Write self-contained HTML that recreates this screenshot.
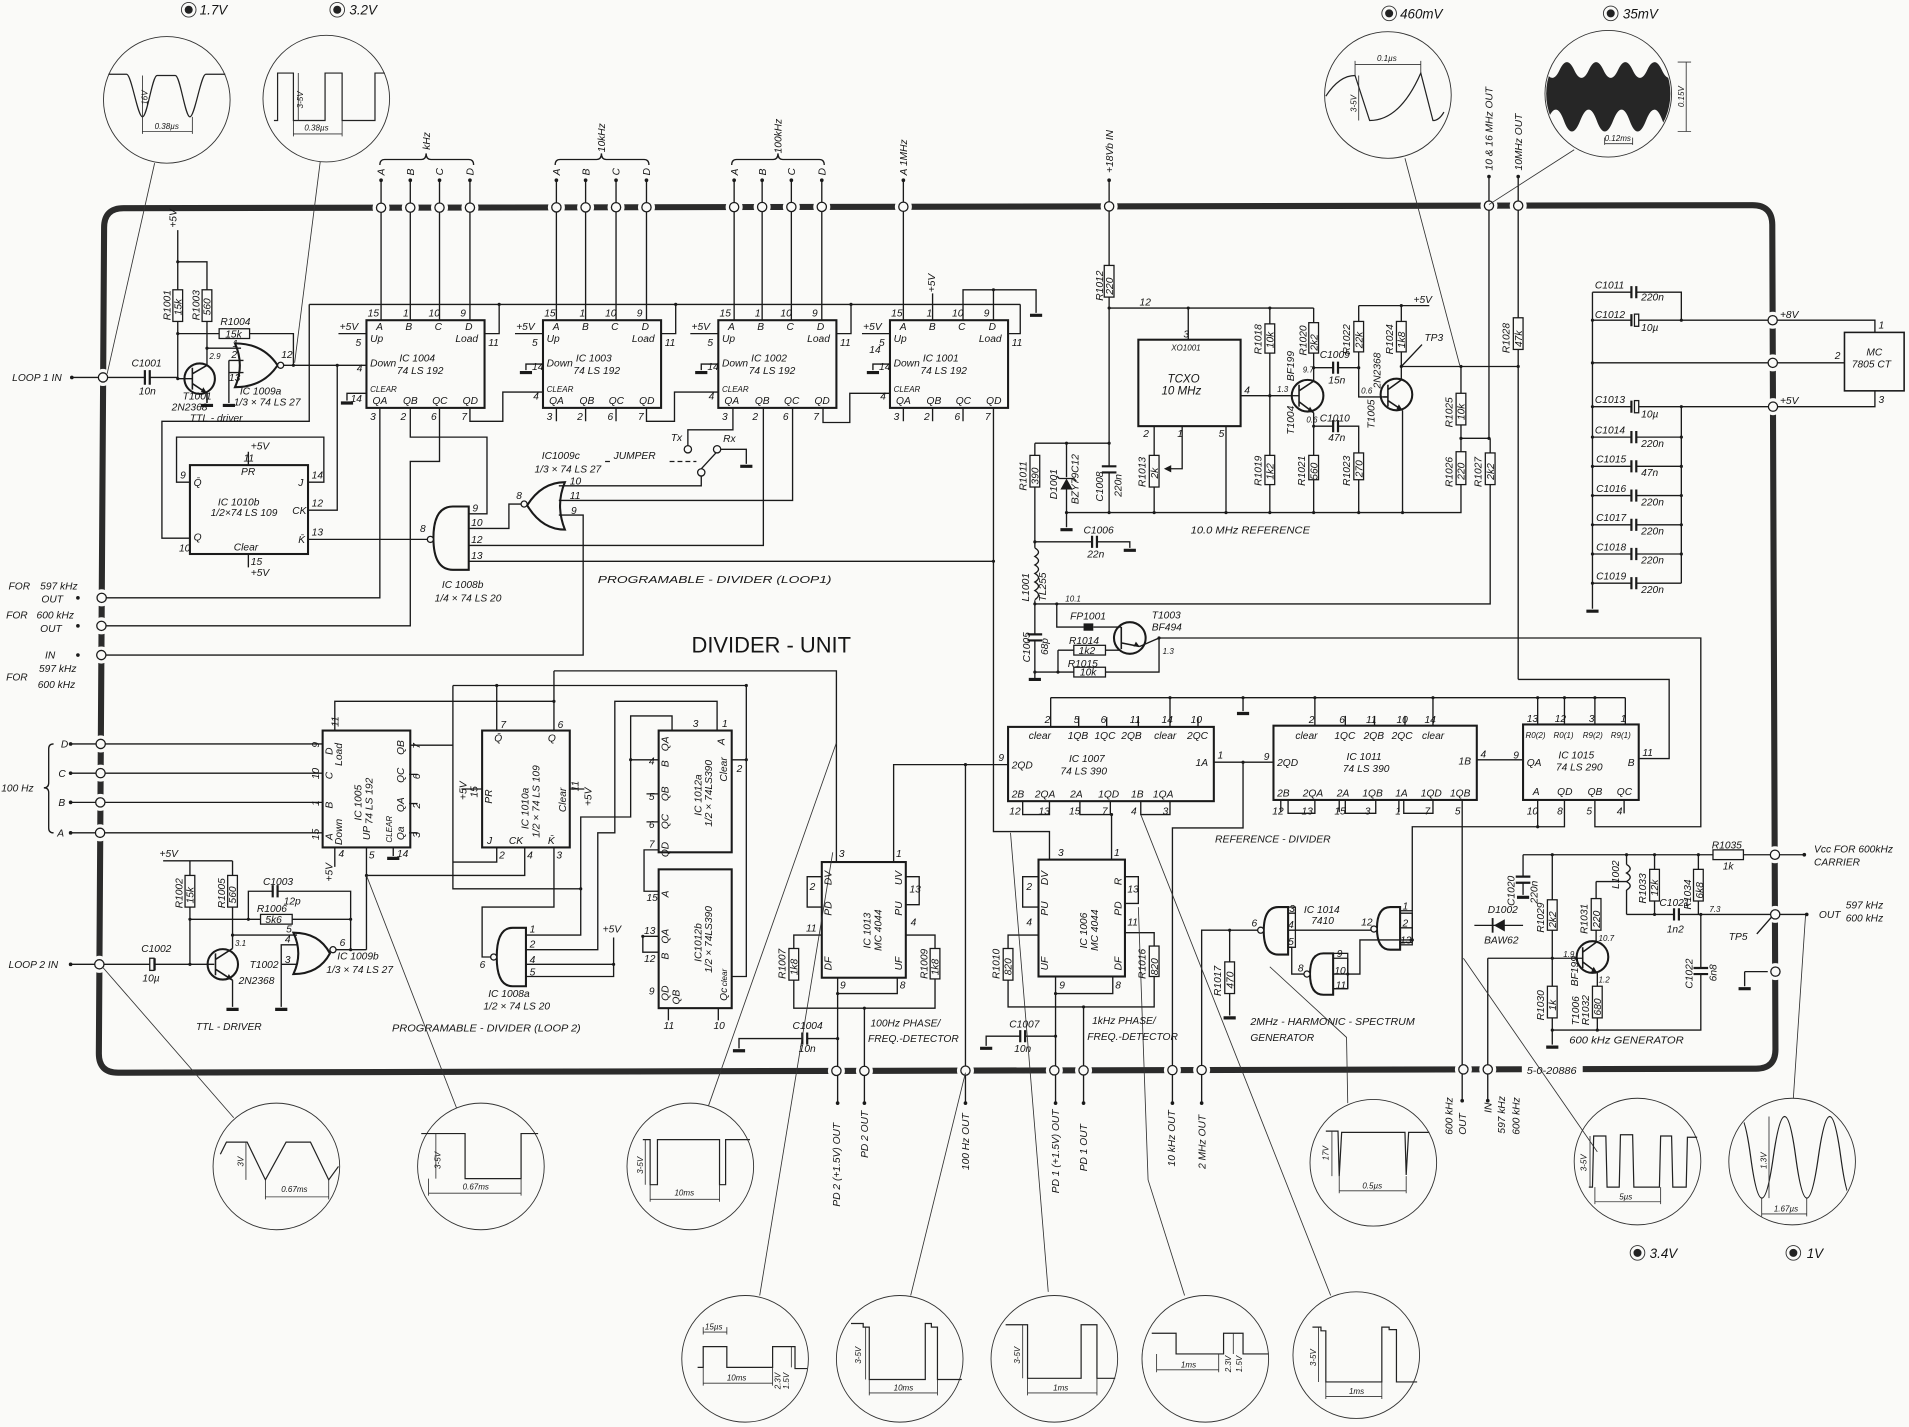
<!DOCTYPE html>
<html><head><meta charset="utf-8">
<style>
html,body{margin:0;padding:0;background:#fafaf8;}
svg{display:block}
.t{font-family:"Liberation Sans",sans-serif;font-style:italic;font-size:8.4px;fill:#151515;stroke:none}
.s{font-size:6.6px}
.m{font-size:9.5px}
.p{font-size:11px}
.w{fill:none;stroke:#1a1a1a;stroke-width:1.1;stroke-linejoin:miter}
.b{fill:none;stroke:#1a1a1a;stroke-width:1.7}
.r{fill:#fafaf8;stroke:#1a1a1a;stroke-width:1.05}
.g{stroke:#1a1a1a;stroke-width:2.6}
.sc{fill:none;stroke:#333;stroke-width:0.75}
.wf{fill:none;stroke:#222;stroke-width:1}
.ld{fill:none;stroke:#333;stroke-width:0.7}
</style></head>
<body>
<svg width="1909" height="1427" viewBox="0 0 1568 1172" preserveAspectRatio="none" xmlns="http://www.w3.org/2000/svg">
<defs>
<clipPath id="c4"><circle cx="1321" cy="77" r="51"/></clipPath>
<clipPath id="ck"><circle cx="1472" cy="954" r="51"/></clipPath>
</defs>

<!-- FRAME -->
<path d="M85.5,187 Q85.5,171 101.5,171 L1439.5,168.5 Q1455.5,168.5 1455.7,184.5 L1458.3,861.5 Q1458.5,877.5 1442.5,877.7 L97,881 Q81,881 81.2,865 Z" fill="none" stroke="#2b2b2b" stroke-width="5"/>
<g fill="#fafaf8">
<circle cx="313" cy="170.6" r="7"/><circle cx="337" cy="170.5" r="7"/><circle cx="361" cy="170.5" r="7"/><circle cx="386" cy="170.5" r="7"/>
<circle cx="457" cy="170.3" r="7"/><circle cx="481" cy="170.3" r="7"/><circle cx="506" cy="170.2" r="7"/><circle cx="531" cy="170.2" r="7"/>
<circle cx="603" cy="170.1" r="7"/><circle cx="626" cy="170" r="7"/><circle cx="650" cy="170" r="7"/><circle cx="675" cy="169.9" r="7"/>
<circle cx="742" cy="169.8" r="7"/><circle cx="911" cy="169.5" r="7"/><circle cx="1223" cy="168.9" r="7"/><circle cx="1247" cy="168.9" r="7"/>
<circle cx="84.6" cy="310" r="7"/><circle cx="83.5" cy="491" r="7"/><circle cx="83.3" cy="514" r="7"/><circle cx="83.2" cy="538" r="7"/>
<circle cx="82.7" cy="611" r="7"/><circle cx="82.6" cy="635" r="7"/><circle cx="82.4" cy="659" r="7"/><circle cx="82.2" cy="684" r="7"/><circle cx="81.6" cy="792" r="7"/>
<circle cx="1456" cy="263" r="7"/><circle cx="1456.1" cy="298" r="7"/><circle cx="1456.3" cy="334" r="7"/><circle cx="1457.9" cy="702" r="7"/><circle cx="1458.1" cy="751" r="7"/><circle cx="1458.3" cy="798" r="7"/>
<circle cx="687" cy="879.5" r="7"/><circle cx="710" cy="879.5" r="7"/><circle cx="793" cy="879.3" r="7"/><circle cx="866" cy="879.1" r="7"/><circle cx="890" cy="879.1" r="7"/>
<circle cx="963" cy="878.9" r="7"/><circle cx="987" cy="878.8" r="7"/><circle cx="1202" cy="878.3" r="7"/><circle cx="1222" cy="878.3" r="7"/>
<rect x="1250" y="871" width="50" height="15"/>
</g>

<!-- WIRES -->
<path class="w" d="
M313,148V263 M337,148V263 M361,148V263 M386,148V263
M457,148V263 M481,148V263 M506,148V263 M531,148V263
M603,148V263 M626,148V263 M650,148V263 M675,148V263
M742,148V263
M911,148V218 M911,244V383 M911,388V421
M1223,145V360 M1247,145V261 M1247,287V558
M254,250H838 M254,250V346H133V442H156
M398,274H410V250 M543,274H555V250 M687,274H699V250 M828,274H838V250
M766,263V241 M791,263V238H851V257 M816,263V238
M278,274H301 M423,274H446 M567,274H590 M708,274H731
M446,299H432V304 M590,299H576V304 M731,299H717V304
M301,323H285V329
M312,335V491H84 M337,335V359H400V422H385 M361,335V379H337V514H84 M386,335V346H413V322H446
M457,335V346 M481,335V346 M506,335V346 M531,335V346H554V322H590
M602,335V353H565V366 M627,335V448H385 M651,335V411H459 M676,335V347H698V323H731
M742,335V346 M766,335V346 M791,335V346 M816,335V683H862V706
M816,461H385
M592,369H613V381 M576,391V399H459
M459,423H479V538H84
M428,414H418V434H385
M351,443H253
M204,382V371 M204,455V466
M253,396H266V359H145V396H156
M253,419H277V300
M146,189V238 M146,264V311 M146,215H170V238 M170,264V300
M146,274H180 M205,274H241V300
M170,286H198 M188,296H200 M188,306H200 M188,296V331
M233,300H301
M59,310H119 M123,310H146
M146,311H158
M58,611H265 M58,635H265 M58,659H265 M58,684H265
M275,600V576H455 M455,551V600 M455,551H687V708 M372,563H613 M408,563V600 M372,563V708H408V696
M337,612H372V730H477
M336,636H343 M336,660H343 M336,684H343
M275,696V712 M301,696V780 M301,719H431V696 M323,696V703
M396,648H379 M468,648H480
M403,786H396V745H455V696
M432,768H477V671H518V624 M432,780H491V684H505V576H589V600 M432,792H504 M432,802H504V770
M552,600V588H518V624H541 M541,652H531 M541,675H531 M541,698H529V732H541 M601,624H613 M613,563V802H601
M541,769H528V782H541 M549,828V838 M590,828V838
M734,708V628H828 M793,628V879
M675,720H663V745H675 M675,768H652V779 M652,805V828H768V804 M768,779V768H744 M744,720H755V743H744
M688,803V906 M737,803V816H688 M710,828V906 M688,853H663 M659,853H607V861
M913,706V669 M853,720H840V745H853 M853,768H828V779 M828,805V827H948V802 M948,777V766H924 M924,720H935V742H924
M867,802V906 M914,802V816H867 M890,827V906 M867,851H842 M838,851H810V859
M863,573H1335 M863,573V597 M961,573V597 M1021,573V584 M886,589V597 M909,589V597 M935,589V597 M984,589V597
M997,626H1046 M1021,626V680H963V906 M793,879V906
M840,658V669H862V658 M887,658V669H912V658 M937,658V669H961V658
M1080,573V596 M1177,573V596 M1105,588V596 M1129,588V596 M1154,588V596
M1213,624H1251 M1052,657V667 M1058,657V668H1080V657 M1100,657V667 M1105,657V668H1130V657 M1149,657V667 M1153,657V668H1177V657
M1201,657V904
M1263,573V595 M1285,573V595 M1310,573V595 M1335,573V595
M1346,623H1371V558H1247 M1263,657V679 M1285,657V679H1160V748 M1310,657V679H1397V524H952 M1334,657V668
M911,253H1079 M976,253V279 M1043,253V266 M1043,290V374 M1043,398V421 M1079,253V265 M1079,290V313
M1019,325H1061
M948,350V374 M948,400V421 M971,350V385H958 M1007,350V421
M854,364H911 M850,364V374 M850,400V450 M850,493V521 M850,526V558 M850,364H854 M876,364V392 M876,402V433
M876,421H1200V398
M850,445H897 M901,445H928V450
M850,496H1224V398
M1200,301V323 M1200,349V371 M1200,360H1224 M1224,360V372
M1151,251V264 M1151,289V312 M1116,251H1174 M1116,251V264 M1116,289V326H1136
M1079,302H1095 M1099,302H1116
M1079,339V374 M1079,394V421 M1079,350H1095 M1099,350H1116V372 M1116,394V421
M1152,337V421
M1151,301H1247 M1151,301L1168,283
M868,496V515H890 M898,515H921 M869,534H882 M908,534H921 M850,552H882 M908,552H952V524 M869,534V552 M936,531L952,524
M1308,240V500 M1308,240H1340 M1344,240H1381V263 M1308,263H1340 M1346,263H1540V273 M1308,298H1515
M1308,334H1340 M1346,334H1540V321
M1308,359H1340 M1344,359H1381 M1308,383H1340 M1344,383H1381 M1308,407H1340 M1344,407H1381
M1308,431H1340 M1344,431H1381 M1308,455H1340 M1344,455H1381 M1308,479H1340 M1344,479H1381 M1381,334V479
M1251,702H1407 M1432,702H1482 M1251,702V720 M1251,725V735
M1275,702V739 M1275,764V810 M1275,836V858
M1222,787H1300 M1222,787V904
M1336,702V710 M1336,731V751 M1311,724H1336 M1311,724V738 M1311,764V774
M1359,702V714 M1359,740V751 M1395,702V714 M1395,740V751
M1336,751H1375 M1379,751H1484
M1397,751V795 M1397,800V846H1275 M1312,799V810 M1312,836V846
M1211,760H1251
M1433,798H1452 M1433,798V810 M1457,751L1443,767
M1058,750H1064 M1058,764H1126 M1058,778H1061V800H1071
M1033,764H987V906 M1010,764V790 M1010,816V834
M1095,787H1107 M1095,800H1107 M1095,812H1107 M1107,787V812 M1107,800H1117V772H1160
M1150,750H1160 M1150,762H1160 M1150,774H1160 M1160,750V774
M134,707H191 M156,707V719 M156,745V792 M156,755H214 M240,755H288 M204,755V732H224 M228,732H288V780
M191,707V719 M191,745V779 M191,768H244
M58,792H123 M127,792H176
M191,805V827
M244,776H231V827 M231,792H244
M276,780H301
"/>
<!-- JUMPER dashed -->
<path d="M497,379H502 M550,379H572" stroke="#1a1a1a" stroke-width="1" stroke-dasharray="4,2.5"/>
<path class="w" d="M576,385L588,372"/>

<!-- IC bodies -->
<g class="b">
<rect x="301" y="263" width="97" height="72"/>
<rect x="446" y="263" width="97" height="72"/>
<rect x="590" y="263" width="97" height="72"/>
<rect x="731" y="263" width="97" height="72"/>
<rect x="156" y="382" width="97" height="73"/>
<rect x="265" y="600" width="72" height="96"/>
<rect x="396" y="600" width="72" height="96"/>
<rect x="541" y="600" width="60" height="100"/>
<rect x="541" y="714" width="60" height="114"/>
<rect x="675" y="708" width="69" height="95"/>
<rect x="853" y="706" width="71" height="96"/>
<rect x="828" y="597" width="169" height="61"/>
<rect x="1046" y="596" width="167" height="61"/>
<rect x="1251" y="595" width="95" height="62"/>
<rect x="935" y="279" width="84" height="71"/>
<rect x="1515" y="273" width="49" height="48" stroke-width="1.3"/>
<path d="M193,282 Q201,300 193,318 Q216,318 228,300 Q216,282 193,282 Z"/>
<path d="M241,766 Q249,783 241,800 Q262,800 271,783 Q262,766 241,766 Z"/>
<path d="M464,396 Q456,415 464,435 Q445,435 433,415 Q445,396 464,396 Z"/>
<path d="M385,416 V468 H372 Q356,468 356,442 Q356,416 372,416 Z"/>
<path d="M432,762 V810 H421 Q408,810 408,786 Q408,762 421,762 Z"/>
<path d="M1058,745 V784 H1050 Q1038,784 1038,764.5 Q1038,745 1050,745 Z"/>
<path d="M1095,783 V817 H1087 Q1076,817 1076,800 Q1076,783 1087,783 Z"/>
<path d="M1150,745 V780 H1142 Q1131,780 1131,762.5 Q1131,745 1142,745 Z"/>
</g>
<g class="r" stroke-width="1.2">
<circle cx="230.5" cy="300" r="2.5"/><circle cx="273.5" cy="780" r="2.5"/><circle cx="430.5" cy="414" r="2.5"/>
<circle cx="353.5" cy="443" r="2.5"/><circle cx="405.5" cy="786" r="2.5"/><circle cx="1035.5" cy="764" r="2.5"/>
<circle cx="1073.5" cy="800" r="2.5"/><circle cx="1128.5" cy="763" r="2.5"/>
</g>

<!-- transistors -->
<g class="b" stroke-width="1.5">
<circle cx="164" cy="311" r="12.5"/><circle cx="183" cy="792" r="12.5"/>
<circle cx="1074" cy="325" r="13"/><circle cx="1147" cy="324" r="13"/>
<circle cx="928" cy="524" r="13"/><circle cx="1308" cy="786" r="13"/>
</g>
<g class="w" stroke-width="1.1">
<path d="M158,302V320 M158,307L170,300 M158,315L170,323V331" stroke-width="1.3"/>
<path d="M177,783V801 M177,788L191,779 M177,796L191,805" stroke-width="1.3"/>
<path d="M1067,316V334 M1067,321L1079,313 M1067,330L1079,339" stroke-width="1.3"/>
<path d="M1140,316V334 M1136,326H1140 M1140,320L1151,312 M1140,329L1152,337" stroke-width="1.3"/>
<path d="M921,515V533 M921,528L936,531" stroke-width="1.3"/>
<path d="M1300,778V795 M1300,782L1311,774 M1300,790L1312,799" stroke-width="1.3"/>
<path d="M1061,325H1067"/>
</g>
<g fill="#1a1a1a">
<path d="M170,323 l-5,-1 l2,-4z"/><path d="M191,805 l-5,-1 l2,-4z"/><path d="M1079,339 l-5,-1 l2,-4z"/>
<path d="M1152,337 l-5,-1 l2,-4z"/><path d="M1312,799 l-5,-1 l2,-4z"/><path d="M936,531 l-5,0 l2,-4z"/>
<rect x="890" y="512" width="8" height="6"/>
</g>

<!-- resistors -->
<g class="r">
<rect x="142" y="238" width="8" height="26"/><rect x="166" y="238" width="8" height="26"/>
<rect x="180" y="270" width="25" height="8"/>
<rect x="152" y="719" width="8" height="26"/><rect x="187" y="719" width="8" height="26"/>
<rect x="214" y="751" width="26" height="8"/>
<rect x="648" y="779" width="8" height="26"/><rect x="764" y="779" width="8" height="25"/>
<rect x="824" y="779" width="8" height="26"/><rect x="944" y="777" width="8" height="25"/>
<rect x="1006" y="790" width="8" height="26"/>
<rect x="907" y="218" width="8" height="26"/>
<rect x="846" y="374" width="8" height="26"/><rect x="944" y="374" width="8" height="26"/>
<rect x="1039" y="266" width="8" height="24"/><rect x="1039" y="374" width="8" height="24"/>
<rect x="1075" y="265" width="8" height="25"/><rect x="1075" y="374" width="8" height="20"/>
<rect x="1112" y="264" width="8" height="25"/><rect x="1112" y="372" width="8" height="22"/>
<rect x="1147" y="264" width="8" height="25"/>
<rect x="1196" y="323" width="8" height="26"/><rect x="1196" y="371" width="8" height="27"/>
<rect x="1220" y="372" width="8" height="26"/><rect x="1243" y="261" width="8" height="26"/>
<rect x="882" y="530" width="26" height="8"/><rect x="882" y="548" width="26" height="8"/>
<rect x="1407" y="698" width="25" height="8"/>
<rect x="1271" y="739" width="8" height="25"/><rect x="1271" y="810" width="8" height="26"/>
<rect x="1307" y="738" width="8" height="26"/><rect x="1308" y="810" width="8" height="26"/>
<rect x="1355" y="714" width="8" height="26"/><rect x="1391" y="714" width="8" height="26"/>
<rect x="1095" y="783" width="12" height="29" fill="none"/><rect x="1150" y="748" width="10" height="28" fill="none"/>
<rect x="1058" y="745" width="6" height="33" fill="none"/>
</g>
<path d="M956,385 l6,-3 v6z" fill="#1a1a1a"/>

<!-- capacitors -->
<g stroke="#1a1a1a" stroke-width="1.8" fill="none">
<path d="M119,304V316 M123,304V316"/>
<path d="M659,848V858 M663,848V858 M838,846V856 M842,846V856"/>
<path d="M905,383H917 M905,388H917 M897,440V450 M901,440V450 M844,521H856 M844,526H856"/>
<path d="M1095,297V307 M1099,297V307 M1095,345V355 M1099,345V355"/>
<path d="M224,727V737 M228,727V737"/>
<path d="M1340,235V245 M1344,235V245 M1340,354V364 M1344,354V364 M1340,378V388 M1344,378V388 M1340,402V412 M1344,402V412 M1340,426V436 M1344,426V436 M1340,450V460 M1344,450V460 M1340,474V484 M1344,474V484"/>
<path d="M1245,720H1257 M1245,725H1257 M1391,795H1403 M1391,800H1403 M1375,746V756 M1379,746V756"/>
<path d="M1340,258V268 M1340,329V339"/>
</g>
<g class="r" stroke-width="1"><rect x="1342.5" y="258" width="3.5" height="10"/><rect x="1342.5" y="329" width="3.5" height="10"/><rect x="123" y="787" width="3.5" height="10"/></g>
<path d="M127,787V797" stroke="#1a1a1a" stroke-width="1.8"/>
<path d="M871,402H881L876,393Z" fill="#1a1a1a"/><path d="M870,393H882 M870,393l-2,-2 M882,393l2,2" stroke="#1a1a1a" stroke-width="1.1" fill="none"/>
<path d="M1236,755V765L1227,760Z" fill="#1a1a1a"/><path d="M1226,754V766" stroke="#1a1a1a" stroke-width="1.5"/>
<path class="w" d="M850,450 q6,3.5 0,7 q6,3.5 0,7 q6,3.5 0,7 q6,3.5 0,7 q6,3.5 0,7 q6,3.5 0,7.5"/>
<path class="w" d="M1336,710 q6,3.5 0,7 q6,3.5 0,7 q6,3.5 0,7"/>
<!-- grounds -->
<g class="g">
<path d="M280,331H290 M427,306H437 M571,306H581 M712,306H722 M846,259H856 M165,333H175 M183,333H193 M608,383H618"/>
<path d="M318,705H328 M186,829H196 M226,829H236 M602,863H612 M805,861H815 M871,435H881 M923,452H933 M845,558H855 M1016,586H1026"/>
<path d="M1303,502H1313 M1246,737H1256 M1270,860H1280 M1428,812H1438 M1005,836H1015"/>
</g>
<!-- dots -->
<g fill="#1a1a1a">
<circle cx="313" cy="148" r="1.5"/><circle cx="337" cy="148" r="1.5"/><circle cx="361" cy="148" r="1.5"/><circle cx="386" cy="148" r="1.5"/>
<circle cx="457" cy="148" r="1.5"/><circle cx="481" cy="148" r="1.5"/><circle cx="506" cy="148" r="1.5"/><circle cx="531" cy="148" r="1.5"/>
<circle cx="603" cy="148" r="1.5"/><circle cx="626" cy="148" r="1.5"/><circle cx="650" cy="148" r="1.5"/><circle cx="675" cy="148" r="1.5"/>
<circle cx="742" cy="148" r="1.5"/><circle cx="911" cy="148" r="1.5"/><circle cx="1223" cy="145" r="1.5"/><circle cx="1247" cy="145" r="1.5"/>
<circle cx="59" cy="310" r="1.5"/><circle cx="64" cy="491" r="1.5"/><circle cx="64" cy="514" r="1.5"/><circle cx="64" cy="538" r="1.5"/>
<circle cx="58" cy="611" r="1.5"/><circle cx="58" cy="635" r="1.5"/><circle cx="58" cy="659" r="1.5"/><circle cx="58" cy="684" r="1.5"/><circle cx="58" cy="792" r="1.5"/>
<circle cx="688" cy="906" r="1.5"/><circle cx="710" cy="906" r="1.5"/><circle cx="793" cy="906" r="1.5"/><circle cx="867" cy="906" r="1.5"/><circle cx="890" cy="906" r="1.5"/>
<circle cx="963" cy="906" r="1.5"/><circle cx="987" cy="906" r="1.5"/><circle cx="1201" cy="904" r="1.5"/><circle cx="1222" cy="904" r="1.5"/>
<circle cx="1482" cy="702" r="1.5"/><circle cx="1484" cy="751" r="1.5"/>
<circle cx="146" cy="215" r="1.3"/><circle cx="146" cy="274" r="1.3"/><circle cx="146" cy="311" r="1.3"/><circle cx="170" cy="286" r="1.3"/>
<circle cx="241" cy="300" r="1.3"/><circle cx="277" cy="300" r="1.3"/><circle cx="410" cy="250" r="1.3"/><circle cx="555" cy="250" r="1.3"/><circle cx="699" cy="250" r="1.3"/><circle cx="816" cy="238" r="1.3"/>
<circle cx="911" cy="253" r="1.3"/><circle cx="976" cy="253" r="1.3"/><circle cx="1043" cy="253" r="1.3"/><circle cx="1043" cy="325" r="1.3"/>
<circle cx="911" cy="364" r="1.3"/><circle cx="876" cy="364" r="1.3"/><circle cx="850" cy="445" r="1.3"/><circle cx="868" cy="496" r="1.3"/><circle cx="850" cy="496" r="1.3"/>
<circle cx="869" cy="552" r="1.3"/><circle cx="850" cy="552" r="1.3"/><circle cx="876" cy="421" r="1.3"/><circle cx="911" cy="421" r="1.3"/><circle cx="948" cy="421" r="1.3"/>
<circle cx="1007" cy="421" r="1.3"/><circle cx="1043" cy="421" r="1.3"/><circle cx="1079" cy="421" r="1.3"/><circle cx="1116" cy="421" r="1.3"/><circle cx="1152" cy="421" r="1.3"/>
<circle cx="1079" cy="302" r="1.3"/><circle cx="1116" cy="302" r="1.3"/><circle cx="1079" cy="350" r="1.3"/><circle cx="1151" cy="251" r="1.3"/>
<circle cx="1151" cy="301" r="1.3"/><circle cx="1200" cy="301" r="1.3"/><circle cx="1247" cy="301" r="1.3"/><circle cx="1200" cy="360" r="1.3"/><circle cx="1223" cy="360" r="1.3"/><circle cx="952" cy="524" r="1.3"/>
<circle cx="1308" cy="263" r="1.3"/><circle cx="1308" cy="298" r="1.3"/><circle cx="1308" cy="334" r="1.3"/><circle cx="1308" cy="359" r="1.3"/><circle cx="1308" cy="383" r="1.3"/>
<circle cx="1308" cy="407" r="1.3"/><circle cx="1308" cy="431" r="1.3"/><circle cx="1308" cy="455" r="1.3"/><circle cx="1308" cy="479" r="1.3"/>
<circle cx="1381" cy="263" r="1.3"/><circle cx="1381" cy="334" r="1.3"/><circle cx="1381" cy="359" r="1.3"/><circle cx="1381" cy="383" r="1.3"/><circle cx="1381" cy="407" r="1.3"/><circle cx="1381" cy="431" r="1.3"/><circle cx="1381" cy="455" r="1.3"/>
<circle cx="455" cy="576" r="1.3"/><circle cx="408" cy="563" r="1.3"/><circle cx="613" cy="563" r="1.3"/><circle cx="613" cy="624" r="1.3"/><circle cx="518" cy="624" r="1.3"/>
<circle cx="301" cy="719" r="1.3"/><circle cx="156" cy="755" r="1.3"/><circle cx="204" cy="755" r="1.3"/><circle cx="288" cy="755" r="1.3"/><circle cx="288" cy="780" r="1.3"/>
<circle cx="156" cy="792" r="1.3"/><circle cx="191" cy="768" r="1.3"/><circle cx="477" cy="730" r="1.3"/><circle cx="504" cy="792" r="1.3"/><circle cx="528" cy="769" r="1.3"/>
<circle cx="793" cy="628" r="1.3"/><circle cx="688" cy="816" r="1.3"/><circle cx="688" cy="853" r="1.3"/><circle cx="710" cy="828" r="1.3"/>
<circle cx="867" cy="816" r="1.3"/><circle cx="867" cy="851" r="1.3"/><circle cx="890" cy="827" r="1.3"/><circle cx="913" cy="669" r="1.3"/>
<circle cx="961" cy="573" r="1.3"/><circle cx="1021" cy="573" r="1.3"/><circle cx="1080" cy="573" r="1.3"/><circle cx="1177" cy="573" r="1.3"/>
<circle cx="1263" cy="573" r="1.3"/><circle cx="1285" cy="573" r="1.3"/><circle cx="1310" cy="573" r="1.3"/><circle cx="1021" cy="626" r="1.3"/><circle cx="1263" cy="679" r="1.3"/>
<circle cx="1275" cy="702" r="1.3"/><circle cx="1336" cy="702" r="1.3"/><circle cx="1359" cy="702" r="1.3"/><circle cx="1395" cy="702" r="1.3"/>
<circle cx="1359" cy="751" r="1.3"/><circle cx="1397" cy="751" r="1.3"/><circle cx="1275" cy="787" r="1.3"/><circle cx="1275" cy="846" r="1.3"/><circle cx="1312" cy="846" r="1.3"/>
<circle cx="1010" cy="764" r="1.3"/><circle cx="1107" cy="800" r="1.3"/><circle cx="816" cy="461" r="1.3"/><circle cx="1160" cy="772" r="1.3"/>
</g>

<!-- connector circles -->
<g class="r" stroke-width="1.1">
<circle cx="313" cy="170.6" r="3.8"/><circle cx="337" cy="170.5" r="3.8"/><circle cx="361" cy="170.5" r="3.8"/><circle cx="386" cy="170.5" r="3.8"/>
<circle cx="457" cy="170.3" r="3.8"/><circle cx="481" cy="170.3" r="3.8"/><circle cx="506" cy="170.2" r="3.8"/><circle cx="531" cy="170.2" r="3.8"/>
<circle cx="603" cy="170.1" r="3.8"/><circle cx="626" cy="170" r="3.8"/><circle cx="650" cy="170" r="3.8"/><circle cx="675" cy="169.9" r="3.8"/>
<circle cx="742" cy="169.8" r="3.8"/><circle cx="911" cy="169.5" r="3.8"/><circle cx="1223" cy="168.9" r="3.8"/><circle cx="1247" cy="168.9" r="3.8"/>
<circle cx="84.6" cy="310" r="3.8"/><circle cx="83.5" cy="491" r="3.8"/><circle cx="83.3" cy="514" r="3.8"/><circle cx="83.2" cy="538" r="3.8"/>
<circle cx="82.7" cy="611" r="3.8"/><circle cx="82.6" cy="635" r="3.8"/><circle cx="82.4" cy="659" r="3.8"/><circle cx="82.2" cy="684" r="3.8"/><circle cx="81.6" cy="792" r="3.8"/>
<circle cx="1456" cy="263" r="3.8"/><circle cx="1456.1" cy="298" r="3.8"/><circle cx="1456.3" cy="334" r="3.8"/><circle cx="1457.9" cy="702" r="3.8"/><circle cx="1458.1" cy="751" r="3.8"/><circle cx="1458.3" cy="798" r="3.8"/>
<circle cx="687" cy="879.5" r="3.8"/><circle cx="710" cy="879.5" r="3.8"/><circle cx="793" cy="879.3" r="3.8"/><circle cx="866" cy="879.1" r="3.8"/><circle cx="890" cy="879.1" r="3.8"/>
<circle cx="963" cy="878.9" r="3.8"/><circle cx="987" cy="878.8" r="3.8"/><circle cx="1202" cy="878.3" r="3.8"/><circle cx="1222" cy="878.3" r="3.8"/>
<circle cx="565" cy="369" r="3"/><circle cx="589" cy="369" r="3"/><circle cx="576" cy="388" r="3"/>
</g>

<!-- braces -->
<path class="w" d="M312,135.5 Q312,131 316,131 H346 Q350,131 350,126 Q350,131 354,131 H385 Q389,131 389,135.5"/>
<path class="w" d="M456,135.5 Q456,131 460,131 H490 Q494,131 494,126 Q494,131 498,131 H529 Q533,131 533,135.5"/>
<path class="w" d="M601,135.5 Q601,131 605,131 H635 Q639,131 639,126 Q639,131 643,131 H673 Q677,131 677,135.5"/>
<path class="w" d="M44,611 Q40,611 40,615 V643 Q40,647 36,647 Q40,647 40,651 V680 Q40,684 44,684"/>

<!-- SCOPES -->
<g class="sc">
<circle cx="137" cy="82" r="52"/><circle cx="268" cy="81" r="52"/><circle cx="1140" cy="78" r="52"/><circle cx="1321" cy="77" r="52"/>
<circle cx="227" cy="958" r="52"/><circle cx="395" cy="958" r="52"/><circle cx="567" cy="958" r="52"/>
<circle cx="1128" cy="955" r="52"/><circle cx="1345" cy="954" r="52"/><circle cx="1472" cy="954" r="52"/>
<circle cx="612" cy="1116" r="52"/><circle cx="739" cy="1116" r="52"/><circle cx="866" cy="1116" r="52"/><circle cx="990" cy="1116" r="52"/><circle cx="1114" cy="1113" r="52"/>
</g>
<path class="ld" d="M127,134L88,307 M263,133L242,298 M1154,130L1199,300 M1293,123L1223,168
M192,918L84,794 M301,719L375,910 M687,610L582,908 M684,700L624,1064 M793,881L748,1064
M830,684L861,1061 M935,745L943,969L973,1064 M937,669L1093,1064 M1043,794L1106,852L1107,906
M1202,787L1312,946 M1483,752L1473,902"/>
<g class="wf">
<path d="M89,61 H104 C108,61 113,96 117,96 C121,96 125,62 129,62 H144 C148,62 152,96 156,96 C160,96 165,61 169,61 H185"/>
<path d="M225,99 H228 V60 H241 V99 H267 V60 H281 V99 H308 V60 H316"/>
<path d="M1089,79 Q1100,62 1113,62 L1125,99 Q1150,99 1167,60 L1177,99 Q1182,99 1186,92"/>
<path d="M181,948 L186,938 H203 L218,969 L235,938 H255 L270,969 L278,958"/>
<path d="M346,931 H382 V968 H428 V931 H442"/>
<path d="M528,936 H534 V973 H540 V936 H591 V973 H596 V936 H616"/>
<path d="M573,1123 H577.6 V1106 H597 V1123 H634.6 V1106 H653 V1124 H663"/>
<path d="M699,1087 H709 V1090 H714 V1133 H760 V1087 H765 V1090 H770 V1133 H790"/>
<path d="M826,1088 H844 V1132 H888 V1088 H901 V1132 H916"/>
<path d="M946,1095 H966 V1112 H1005 V1095 H1021 V1112 H1042"/>
<path d="M1078,1090 H1085 V1093 H1089 V1135 H1135 V1090 H1141 V1092 H1147 V1135 H1164"/>
<path d="M1089,929 H1099 L1100,966 L1102,930 H1154 L1155,965 L1157,930 H1174"/>
<path d="M1305,975 H1308 L1309,933 H1319 L1320,975 H1330 L1331,932 H1341 L1342,975 H1363 L1364,933 H1373 L1374,975 H1385 L1386,934 H1394"/>
<g clip-path="url(#ck)"><path d="M1420,950.5 Q1429,883.5 1438,950.5 T1456.5,950.5 T1475,950.5 T1493.5,950.5 T1512,950.5 T1530,950.5"/></g>
</g>
<g clip-path="url(#c4)"><path d="M1257,57.5 Q1263,44.5 1269,57.5 Q1275,70.5 1281,57.5 T1293,57.5 T1305,57.5 T1317,57.5 T1329,57.5 T1341,57.5 T1353,57.5 T1365,57.5 T1377,57.5 T1389,57.5 L1389,99 L1379,99 Q1372,117 1365.5,99 T1352,99 T1338.5,99 T1325,99 T1311.5,99 T1298,99 T1284.5,99 T1271,99 T1257.5,99 Z" fill="#262626"/></g>
<path class="ld" d="M117,62V110 M158,96V110 M117,108H158 M241,99V112 M281,99V112 M241,110H281 M245,60V99
M1113,50V62 M1167,50V60 M1113,53H1167 M1116,62V99 M1385,51V108 M1378,51H1389 M1378,108H1389 M1318,113V119 M1341,113V119 M1318,118H1341
M202,938V969 M218,969V985 M270,969V985 M218,983H270 M358,931V968 M352,968V982 M428,968V982 M352,980H428
M530,936V973 M534,973V987 M591,973V987 M534,985H591 M577.6,1090V1096 M597,1090V1096 M577.6,1094H597 M577.6,1123V1138 M634.6,1123V1138 M577.6,1136H634.6 M650,1106V1123
M711,1090V1133 M714,1133V1146 M770,1133V1146 M714,1144H770 M840,1088V1132 M844,1132V1146 M901,1132V1146 M844,1144H901
M950,1112V1127 M1001,1112V1127 M950,1125H1001 M1013,1095V1112 M1083,1090V1135 M1089,1135V1149 M1135,1135V1149 M1089,1147H1135
M1094,929V966 M1100,966V980 M1155,966V980 M1100,978H1155 M1306,933V975 M1310,975V989 M1364,975V989 M1310,987H1364
M1453,917V984 M1447,984V999 M1484,984V999 M1447,997H1484"/>

<!-- probe symbols -->
<g><circle cx="155" cy="8" r="6" class="sc" stroke-width="1"/><circle cx="155" cy="8" r="3.3" fill="#222"/>
<circle cx="277" cy="8" r="6" class="sc" stroke-width="1"/><circle cx="277" cy="8" r="3.3" fill="#222"/>
<circle cx="1141" cy="11" r="6" class="sc" stroke-width="1"/><circle cx="1141" cy="11" r="3.3" fill="#222"/>
<circle cx="1323" cy="11" r="6" class="sc" stroke-width="1"/><circle cx="1323" cy="11" r="3.3" fill="#222"/>
<circle cx="1345" cy="1029" r="6" class="sc" stroke-width="1"/><circle cx="1345" cy="1029" r="3.3" fill="#222"/>
<circle cx="1473" cy="1029" r="6" class="sc" stroke-width="1"/><circle cx="1473" cy="1029" r="3.3" fill="#222"/></g>

<!-- TEXT -->
<g class="t">
<text class="p" x="164" y="12">1.7V</text><text class="p" x="287" y="12">3.2V</text>
<text class="p" x="1150" y="15">460mV</text><text class="p" x="1333" y="15">35mV</text>
<text class="p" x="1355" y="1033">3.4V</text><text class="p" x="1484" y="1033">1V</text>

<text transform="translate(316,144) rotate(-90)">A</text><text transform="translate(340,144) rotate(-90)">B</text><text transform="translate(364,144) rotate(-90)">C</text><text transform="translate(389,144) rotate(-90)">D</text>
<text transform="translate(460,144) rotate(-90)">A</text><text transform="translate(484,144) rotate(-90)">B</text><text transform="translate(509,144) rotate(-90)">C</text><text transform="translate(534,144) rotate(-90)">D</text>
<text transform="translate(606,144) rotate(-90)">A</text><text transform="translate(629,144) rotate(-90)">B</text><text transform="translate(653,144) rotate(-90)">C</text><text transform="translate(678,144) rotate(-90)">D</text>
<text transform="translate(353,123) rotate(-90)">kHz</text><text transform="translate(497,125) rotate(-90)">10kHz</text><text transform="translate(642,126) rotate(-90)">100kHz</text>
<text transform="translate(745,144) rotate(-90)">A  1MHz</text><text transform="translate(914,142) rotate(-90)">+18Vb IN</text>
<text transform="translate(1226,140) rotate(-90)">10 &amp; 16 MHz OUT</text><text transform="translate(1250,140) rotate(-90)">10MHz OUT</text>

<g>
<text x="302" y="260">15</text><text x="331" y="260">1</text><text x="352" y="260">10</text><text x="378" y="260">9</text>
<text x="309" y="271">A</text><text x="333" y="271">B</text><text x="357" y="271">C</text><text x="382" y="271">D</text>
<text x="304" y="281">Up</text><text x="374" y="281">Load</text><text x="279" y="271">+5V</text><text x="292" y="284">5</text>
<text x="304" y="301">Down</text><text x="328" y="297">IC 1004</text><text x="326" y="307">74 LS 192</text>
<text class="s" x="304" y="322">CLEAR</text><text x="306" y="332">QA</text><text x="331" y="332">QB</text><text x="355" y="332">QC</text><text x="380" y="332">QD</text>
<text x="304" y="345">3</text><text x="329" y="345">2</text><text x="354" y="345">6</text><text x="379" y="345">7</text><text x="401" y="284">11</text>
<text x="293" y="305">4</text><text x="288" y="330">14</text>
</g>
<g transform="translate(145,0)">
<text x="302" y="260">15</text><text x="331" y="260">1</text><text x="352" y="260">10</text><text x="378" y="260">9</text>
<text x="309" y="271">A</text><text x="333" y="271">B</text><text x="357" y="271">C</text><text x="382" y="271">D</text>
<text x="304" y="281">Up</text><text x="374" y="281">Load</text><text x="279" y="271">+5V</text><text x="292" y="284">5</text>
<text x="304" y="301">Down</text><text x="328" y="297">IC 1003</text><text x="326" y="307">74 LS 192</text>
<text class="s" x="304" y="322">CLEAR</text><text x="306" y="332">QA</text><text x="331" y="332">QB</text><text x="355" y="332">QC</text><text x="380" y="332">QD</text>
<text x="304" y="345">3</text><text x="329" y="345">2</text><text x="354" y="345">6</text><text x="379" y="345">7</text><text x="401" y="284">11</text>
<text x="292" y="304">14</text><text x="293" y="328">4</text>
</g>
<g transform="translate(289,0)">
<text x="302" y="260">15</text><text x="331" y="260">1</text><text x="352" y="260">10</text><text x="378" y="260">9</text>
<text x="309" y="271">A</text><text x="333" y="271">B</text><text x="357" y="271">C</text><text x="382" y="271">D</text>
<text x="304" y="281">Up</text><text x="374" y="281">Load</text><text x="279" y="271">+5V</text><text x="292" y="284">5</text>
<text x="304" y="301">Down</text><text x="328" y="297">IC 1002</text><text x="326" y="307">74 LS 192</text>
<text class="s" x="304" y="322">CLEAR</text><text x="306" y="332">QA</text><text x="331" y="332">QB</text><text x="355" y="332">QC</text><text x="380" y="332">QD</text>
<text x="304" y="345">3</text><text x="329" y="345">2</text><text x="354" y="345">6</text><text x="379" y="345">7</text><text x="401" y="284">11</text>
<text x="292" y="304">14</text><text x="293" y="328">4</text>
</g>
<g transform="translate(430,0)">
<text x="302" y="260">15</text><text x="331" y="260">1</text><text x="352" y="260">10</text><text x="378" y="260">9</text>
<text x="309" y="271">A</text><text x="333" y="271">B</text><text x="357" y="271">C</text><text x="382" y="271">D</text>
<text x="304" y="281">Up</text><text x="374" y="281">Load</text><text x="279" y="271">+5V</text><text x="292" y="284">5</text>
<text x="304" y="301">Down</text><text x="328" y="297">IC 1001</text><text x="326" y="307">74 LS 192</text>
<text class="s" x="304" y="322">CLEAR</text><text x="306" y="332">QA</text><text x="331" y="332">QB</text><text x="355" y="332">QC</text><text x="380" y="332">QD</text>
<text x="304" y="345">3</text><text x="329" y="345">2</text><text x="354" y="345">6</text><text x="379" y="345">7</text><text x="401" y="284">11</text>
<text x="292" y="304">14</text><text x="293" y="328">4</text><text x="284" y="290">14</text>
</g>
<text transform="translate(768,240) rotate(-90)">+5V</text>

<text x="10" y="313">LOOP 1 IN</text>
<text x="108" y="301">C1001</text><text x="114" y="324">10n</text>
<text transform="translate(140,263) rotate(-90)">R1001</text><text transform="translate(149,259) rotate(-90)">15k</text>
<text transform="translate(164,263) rotate(-90)">R1003</text><text transform="translate(173,259) rotate(-90)">560</text>
<text transform="translate(145,187) rotate(-90)">+5V</text>
<text x="181" y="267">R1004</text><text x="185" y="277">15k</text>
<text class="s" x="172" y="295">2.9</text><text x="191" y="285">1</text><text x="190" y="294">2</text><text x="188" y="313">13</text><text x="231" y="294">12</text>
<text x="150" y="328">T1001</text><text x="141" y="337">2N2368</text><text x="156" y="346">TTL - driver</text>
<text x="197" y="324">IC 1009a</text><text x="192" y="333">1/3 × 74 LS 27</text>
<text x="445" y="377">IC1009c</text><text x="439" y="388">1/3 × 74 LS 27</text>
<text x="468" y="398">10</text><text x="468" y="410">11</text><text x="469" y="422">9</text><text x="424" y="410">8</text>
<text x="388" y="420">9</text><text x="387" y="432">10</text><text x="387" y="446">12</text><text x="387" y="459">13</text><text x="345" y="437">8</text>
<text x="363" y="483">IC 1008b</text><text x="357" y="494">1/4 × 74 LS 20</text>
<text x="491" y="479" textLength="192" lengthAdjust="spacingAndGlyphs">PROGRAMABLE - DIVIDER   (LOOP1)</text>
<text x="504" y="377">JUMPER</text><text x="551" y="362">Tx</text><text x="594" y="363">Rx</text>
<text x="198" y="390">PR</text><text x="206" y="369">+5V</text><text x="200" y="379">11</text>
<text x="179" y="415">IC 1010b</text><text x="173" y="424">1/2×74 LS 109</text><text x="192" y="452">Clear</text><text x="206" y="464">15</text><text x="206" y="473">+5V</text>
<text x="159" y="399">Q̄</text><text x="148" y="393">9</text><text x="159" y="444">Q</text><text x="147" y="453">10</text>
<text x="245" y="399">J</text><text x="256" y="393">14</text><text x="240" y="422">CK</text><text x="256" y="416">12</text><text x="245" y="446">K̄</text><text x="256" y="440">13</text>

<text x="7" y="484">FOR</text><text x="33" y="484">597 kHz</text><text x="34" y="495">OUT</text>
<text x="5" y="508">FOR</text><text x="30" y="508">600 kHz</text><text x="33" y="519">OUT</text>
<text x="37" y="541">IN</text>
<text x="5" y="559">FOR</text><text x="32" y="552">597 kHz</text><text x="31" y="565">600 kHz</text>
<text x="50" y="614">D</text><text x="48" y="638">C</text><text x="48" y="662">B</text><text x="47" y="687">A</text><text x="1" y="650">100 Hz</text>
<text x="568" y="536" style="font-style:normal;font-size:18px" textLength="131" lengthAdjust="spacingAndGlyphs">DIVIDER - UNIT</text>

<text transform="translate(297,674) rotate(-90)">IC 1005</text><text transform="translate(306,677) rotate(-90)">74 LS 192</text>
<text transform="translate(273,620) rotate(-90)">D</text><text transform="translate(281,629) rotate(-90)">Load</text>
<text transform="translate(273,640) rotate(-90)">C</text><text transform="translate(273,664) rotate(-90)">B</text>
<text transform="translate(273,690) rotate(-90)">A</text><text transform="translate(281,694) rotate(-90)">Down</text>
<text transform="translate(262,614) rotate(-90)">9</text><text transform="translate(262,640) rotate(-90)">10</text><text transform="translate(262,662) rotate(-90)">1</text><text transform="translate(262,690) rotate(-90)">15</text>
<text transform="translate(278,597) rotate(-90)">11</text>
<text transform="translate(332,620) rotate(-90)">QB</text><text transform="translate(332,643) rotate(-90)">QC</text><text transform="translate(332,667) rotate(-90)">QA</text><text transform="translate(332,690) rotate(-90)">Qa</text>
<text transform="translate(345,615) rotate(-90)">7</text><text transform="translate(345,640) rotate(-90)">6</text><text transform="translate(345,664) rotate(-90)">2</text><text transform="translate(345,688) rotate(-90)">3</text>
<text transform="translate(304,690) rotate(-90)">UP</text><text transform="translate(322,692) rotate(-90)" class="s">CLEAR</text>
<text transform="translate(273,724) rotate(-90)">+5V</text><text x="278" y="704">4</text><text x="303" y="705">5</text><text x="326" y="704">14</text>
<text transform="translate(434,681) rotate(-90)">IC 1010a</text><text transform="translate(443,688) rotate(-90)">1/2 × 74 LS 109</text>
<text transform="translate(404,660) rotate(-90)">PR</text><text transform="translate(465,667) rotate(-90)">Clear</text>
<text transform="translate(383,657) rotate(-90)">+5V</text><text transform="translate(392,655) rotate(-90)">15</text>
<text transform="translate(475,650) rotate(-90)">11</text><text transform="translate(486,662) rotate(-90)">+5V</text>
<text x="406" y="609">Q̄</text><text x="411" y="598">7</text><text x="450" y="609">Q</text><text x="458" y="598">6</text>
<text x="400" y="693">J</text><text x="418" y="693">CK</text><text x="450" y="693">K̄</text><text x="410" y="705">2</text><text x="433" y="705">4</text><text x="457" y="705">3</text>
<text transform="translate(576,670) rotate(-90)">IC 1012a</text><text transform="translate(585,679) rotate(-90)">1/2 × 74LS390</text>
<text transform="translate(549,617) rotate(-90)">QA</text><text transform="translate(595,612) rotate(-90)">A</text>
<text transform="translate(549,630) rotate(-90)">B</text><text transform="translate(549,658) rotate(-90)">QB</text><text transform="translate(549,681) rotate(-90)">QC</text><text transform="translate(549,704) rotate(-90)">QD</text>
<text transform="translate(597,642) rotate(-90)">Clear</text><text x="569" y="597">3</text><text x="593" y="597">1</text><text x="605" y="634">2</text>
<text x="533" y="628">4</text><text x="533" y="657">5</text><text x="533" y="680">6</text><text x="533" y="696">7</text>
<text transform="translate(576,790) rotate(-90)">IC1012b</text><text transform="translate(585,799) rotate(-90)">1/2 × 74LS390</text>
<text transform="translate(549,737) rotate(-90)">A</text><text transform="translate(549,775) rotate(-90)">QA</text><text transform="translate(549,788) rotate(-90)">B</text>
<text transform="translate(549,822) rotate(-90)">QD</text><text transform="translate(558,825) rotate(-90)">QB</text><text transform="translate(597,822) rotate(-90)">Qc</text><text transform="translate(597,810) rotate(-90)" class="s">clear</text>
<text x="531" y="740">15</text><text x="529" y="767">13</text><text x="529" y="790">12</text><text x="545" y="845">11</text><text x="586" y="845">10</text><text x="533" y="817">9</text>
<text x="401" y="819">IC 1008a</text><text x="397" y="829">1/2 × 74 LS 20</text><text x="394" y="795">6</text>
<text x="435" y="766">1</text><text x="435" y="778">2</text><text x="435" y="791">4</text><text x="435" y="801">5</text><text x="495" y="766">+5V</text>
<text x="7" y="795">LOOP 2 IN</text><text x="116" y="782">C1002</text><text x="117" y="806">10µ</text>
<text x="131" y="704">+5V</text>
<text transform="translate(150,746) rotate(-90)">R1002</text><text transform="translate(159,742) rotate(-90)">15k</text>
<text transform="translate(185,746) rotate(-90)">R1005</text><text transform="translate(194,742) rotate(-90)">560</text>
<text x="216" y="727">C1003</text><text x="233" y="743">12p</text><text x="211" y="749">R1006</text><text x="218" y="758">5k6</text>
<text class="s" x="193" y="777">3.1</text><text x="205" y="795">T1002</text><text x="196" y="808">2N2368</text>
<text x="234" y="774">4</text><text x="234" y="791">3</text><text x="235" y="766">5</text><text x="279" y="777">6</text>
<text x="277" y="788">IC 1009b</text><text x="268" y="799">1/3 × 74 LS 27</text>
<text x="161" y="846">TTL - DRIVER</text>
<text x="322" y="847" textLength="155" lengthAdjust="spacingAndGlyphs">PROGRAMABLE - DIVIDER   (LOOP 2)</text>
<text transform="translate(715,779) rotate(-90)">IC 1013</text><text transform="translate(724,781) rotate(-90)">MC 4044</text>
<text x="689" y="704">3</text><text x="736" y="704">1</text>
<text transform="translate(683,727) rotate(-90)">DV</text><text transform="translate(683,752) rotate(-90)">PD</text><text transform="translate(683,797) rotate(-90)">DF</text>
<text transform="translate(741,727) rotate(-90)">UV</text><text transform="translate(741,752) rotate(-90)">PU</text><text transform="translate(741,797) rotate(-90)">UF</text>
<text x="665" y="731">2</text><text x="662" y="765">11</text><text x="747" y="733">13</text><text x="748" y="760">4</text><text x="690" y="812">9</text><text x="739" y="812">8</text>
<text transform="translate(645,804) rotate(-90)">R1007</text><text transform="translate(655,801) rotate(-90)">1k8</text>
<text transform="translate(762,804) rotate(-90)">R1009</text><text transform="translate(771,801) rotate(-90)">1k8</text>
<text x="651" y="845">C1004</text><text x="656" y="864">10n</text>
<text x="715" y="843">100Hz PHASE/</text><text x="713" y="856">FREQ.-DETECTOR</text>
<text transform="translate(893,779) rotate(-90)">IC 1006</text><text transform="translate(902,781) rotate(-90)">MC 4044</text>
<text x="869" y="703">3</text><text x="915" y="703">1</text>
<text transform="translate(861,727) rotate(-90)">DV</text><text transform="translate(861,752) rotate(-90)">PU</text><text transform="translate(861,797) rotate(-90)">UF</text>
<text transform="translate(921,727) rotate(-90)">R</text><text transform="translate(921,752) rotate(-90)">PD</text><text transform="translate(921,797) rotate(-90)">DF</text>
<text x="843" y="731">2</text><text x="843" y="760">4</text><text x="926" y="733">13</text><text x="926" y="760">11</text><text x="870" y="812">9</text><text x="916" y="812">8</text>
<text transform="translate(821,804) rotate(-90)">R1010</text><text transform="translate(831,801) rotate(-90)">820</text>
<text transform="translate(941,804) rotate(-90)">R1016</text><text transform="translate(951,801) rotate(-90)">820</text>
<text x="829" y="844">C1007</text><text x="833" y="864">10n</text>
<text x="897" y="841">1kHz PHASE/</text><text x="893" y="854">FREQ.-DETECTOR</text>
<text x="858" y="594">2</text><text x="882" y="594">5</text><text x="904" y="594">6</text><text x="928" y="594">11</text><text x="954" y="594">14</text><text x="978" y="594">10</text>
<text x="845" y="607">clear</text><text x="877" y="607">1QB</text><text x="899" y="607">1QC</text><text x="921" y="607">2QB</text><text x="948" y="607">clear</text><text x="975" y="607">2QC</text>
<text x="878" y="626">IC 1007</text><text x="871" y="636">74 LS 390</text>
<text x="831" y="631">2QD</text><text x="820" y="625">9</text><text x="982" y="629">1A</text><text x="1000" y="623">1</text>
<text x="831" y="655">2B</text><text x="850" y="655">2QA</text><text x="879" y="655">2A</text><text x="902" y="655">1QD</text><text x="929" y="655">1B</text><text x="947" y="655">1QA</text>
<text x="829" y="669">12</text><text x="853" y="669">13</text><text x="878" y="669">15</text><text x="905" y="669">7</text><text x="929" y="669">4</text><text x="955" y="669">3</text>
<text x="1075" y="594">2</text><text x="1100" y="594">6</text><text x="1122" y="594">11</text><text x="1147" y="594">10</text><text x="1170" y="594">14</text>
<text x="1064" y="607">clear</text><text x="1096" y="607">1QC</text><text x="1120" y="607">2QB</text><text x="1143" y="607">2QC</text><text x="1168" y="607">clear</text>
<text x="1106" y="624">IC 1011</text><text x="1103" y="634">74 LS 390</text>
<text x="1049" y="629">2QD</text><text x="1038" y="624">9</text><text x="1198" y="628">1B</text><text x="1216" y="622">4</text>
<text x="1049" y="654">2B</text><text x="1070" y="654">2QA</text><text x="1098" y="654">2A</text><text x="1119" y="654">1QB</text><text x="1146" y="654">1A</text><text x="1167" y="654">1QD</text><text x="1191" y="654">1QB</text>
<text x="1045" y="669">12</text><text x="1069" y="669">13</text><text x="1096" y="669">15</text><text x="1121" y="669">3</text><text x="1146" y="669">1</text><text x="1170" y="669">7</text><text x="1195" y="669">5</text>
<text x="1254" y="593">13</text><text x="1277" y="593">12</text><text x="1305" y="593">3</text><text x="1331" y="593">1</text>
<text class="s" x="1253" y="606">R0(2)</text><text class="s" x="1276" y="606">R0(1)</text><text class="s" x="1300" y="606">R9(2)</text><text class="s" x="1323" y="606">R9(1)</text>
<text x="1280" y="623">IC 1015</text><text x="1278" y="633">74 LS 290</text>
<text x="1254" y="629">QA</text><text x="1243" y="623">9</text><text x="1337" y="629">B</text><text x="1349" y="621">11</text>
<text x="1259" y="653">A</text><text x="1279" y="653">QD</text><text x="1304" y="653">QB</text><text x="1328" y="653">QC</text>
<text x="1254" y="669">10</text><text x="1279" y="669">8</text><text x="1303" y="669">5</text><text x="1328" y="669">4</text>
<text x="998" y="692" textLength="95" lengthAdjust="spacingAndGlyphs">REFERENCE - DIVIDER</text>
<text transform="translate(906,247) rotate(-90)">R1012</text><text transform="translate(914,242) rotate(-90)">220</text>
<text x="936" y="251">12</text><text x="972" y="277">3</text><text class="s" x="962" y="288">XO1001</text>
<text class="m" x="959" y="314">TCXO</text><text class="m" x="954" y="324">10 MHz</text><text x="1022" y="323">4</text>
<text x="939" y="359">2</text><text x="967" y="359">1</text><text x="1001" y="359">5</text>
<text transform="translate(1036,291) rotate(-90)">R1018</text><text transform="translate(1046,286) rotate(-90)">10k</text>
<text transform="translate(1036,399) rotate(-90)">R1019</text><text transform="translate(1046,394) rotate(-90)">1k2</text>
<text transform="translate(1073,292) rotate(-90)">R1020</text><text transform="translate(1082,288) rotate(-90)">2k2</text>
<text transform="translate(1063,313) rotate(-90)">BF199</text><text transform="translate(1063,357) rotate(-90)">T1004</text>
<text class="s" x="1070" y="306">9.7</text><text class="s" x="1049" y="322">1.3</text><text class="s" x="1073" y="347">0.6</text>
<text x="1084" y="294">C1009</text><text x="1091" y="315">15n</text><text x="1084" y="346">C1010</text><text x="1091" y="362">47n</text>
<text transform="translate(1072,399) rotate(-90)">R1021</text><text transform="translate(1082,394) rotate(-90)">560</text>
<text transform="translate(1109,291) rotate(-90)">R1022</text><text transform="translate(1119,286) rotate(-90)">22k</text>
<text transform="translate(1109,399) rotate(-90)">R1023</text><text transform="translate(1119,392) rotate(-90)">270</text>
<text transform="translate(1134,319) rotate(-90)">2N2368</text><text transform="translate(1129,352) rotate(-90)">T1005</text><text class="s" x="1118" y="323">0.6</text>
<text transform="translate(1144,291) rotate(-90)">R1024</text><text transform="translate(1154,286) rotate(-90)">1k8</text>
<text x="1161" y="249">+5V</text><text x="1170" y="280">TP3</text>
<text transform="translate(1193,351) rotate(-90)">R1025</text><text transform="translate(1203,345) rotate(-90)">10k</text>
<text transform="translate(1193,400) rotate(-90)">R1026</text><text transform="translate(1203,394) rotate(-90)">220</text>
<text transform="translate(1217,400) rotate(-90)">R1027</text><text transform="translate(1227,394) rotate(-90)">2k2</text>
<text transform="translate(1240,290) rotate(-90)">R1028</text><text transform="translate(1250,285) rotate(-90)">47k</text>
<text transform="translate(843,403) rotate(-90)">R1011</text><text transform="translate(853,398) rotate(-90)">390</text>
<text transform="translate(868,410) rotate(-90)">D1001</text><text transform="translate(886,414) rotate(-90)">BZY79C12</text>
<text transform="translate(906,412) rotate(-90)">C1008</text><text transform="translate(921,408) rotate(-90)">220n</text>
<text transform="translate(941,400) rotate(-90)">R1013</text><text transform="translate(951,393) rotate(-90)">2k</text>
<text x="978" y="438" textLength="98" lengthAdjust="spacingAndGlyphs">10.0 MHz   REFERENCE</text>
<text x="890" y="438">C1006</text><text x="893" y="458">22n</text>
<text transform="translate(845,494) rotate(-90)">L1001</text><text transform="translate(859,494) rotate(-90)">TL255</text>
<text class="s" x="875" y="494">10.1</text>
<text x="879" y="509">FP1001</text><text x="946" y="508">T1003</text><text x="946" y="518">BF494</text>
<text x="878" y="529">R1014</text><text x="886" y="537">1k2</text><text x="877" y="548">R1015</text><text x="887" y="555">10k</text><text class="s" x="955" y="537">1.3</text>
<text transform="translate(846,544) rotate(-90)">C1005</text><text transform="translate(861,538) rotate(-90)">68p</text>
<text x="1310" y="237">C1011</text><text x="1348" y="247">220n</text>
<text x="1310" y="261">C1012</text><text x="1348" y="272">10µ</text>
<text x="1310" y="331">C1013</text><text x="1348" y="343">10µ</text>
<text x="1310" y="356">C1014</text><text x="1348" y="367">220n</text>
<text x="1311" y="380">C1015</text><text x="1348" y="391">47n</text>
<text x="1311" y="404">C1016</text><text x="1348" y="415">220n</text>
<text x="1311" y="428">C1017</text><text x="1348" y="439">220n</text>
<text x="1311" y="452">C1018</text><text x="1348" y="463">220n</text>
<text x="1311" y="476">C1019</text><text x="1348" y="487">220n</text>
<text x="1462" y="261">+8V</text><text x="1462" y="332">+5V</text>
<text x="1543" y="270">1</text><text x="1507" y="295">2</text><text x="1543" y="331">3</text>
<text x="1533" y="292">MC</text><text x="1521" y="302">7805 CT</text>
<text x="1406" y="697">R1035</text><text x="1415" y="714">1k</text>
<text x="1490" y="700">Vcc FOR 600kHz</text><text x="1490" y="711">CARRIER</text>
<text x="1494" y="754">OUT</text><text x="1516" y="746">597 kHz</text><text x="1516" y="757">600 kHz</text><text x="1420" y="772">TP5</text>
<text transform="translate(1244,744) rotate(-90)">C1020</text><text transform="translate(1263,742) rotate(-90)">220n</text>
<text transform="translate(1268,766) rotate(-90)">R1029</text><text transform="translate(1278,762) rotate(-90)">2k2</text>
<text transform="translate(1330,730) rotate(-90)">L1002</text>
<text transform="translate(1304,767) rotate(-90)">R1031</text><text transform="translate(1314,762) rotate(-90)">220</text>
<text transform="translate(1296,810) rotate(-90)">BF199</text><text transform="translate(1297,842) rotate(-90)">T1006</text>
<text transform="translate(1268,838) rotate(-90)">R1030</text><text transform="translate(1278,830) rotate(-90)">1k</text>
<text transform="translate(1305,842) rotate(-90)">R1032</text><text transform="translate(1315,834) rotate(-90)">680</text>
<text class="s" x="1284" y="786">1.9</text><text class="s" x="1313" y="773">10.7</text><text class="s" x="1313" y="807">1.2</text>
<text transform="translate(1352,742) rotate(-90)">R1033</text><text transform="translate(1362,736) rotate(-90)">12k</text>
<text transform="translate(1389,747) rotate(-90)">R1034</text><text transform="translate(1399,738) rotate(-90)">6k8</text>
<text x="1363" y="744">C1021</text><text x="1369" y="766">1n2</text><text class="s" x="1404" y="749">7.3</text>
<text transform="translate(1390,812) rotate(-90)">C1022</text><text transform="translate(1410,806) rotate(-90)">6n8</text>
<text x="1222" y="750">D1002</text><text x="1219" y="775">BAW62</text>
<text x="1289" y="857" textLength="94" lengthAdjust="spacingAndGlyphs">600 kHz  GENERATOR</text>
<text x="1071" y="750">IC 1014</text><text x="1077" y="759">7410</text>
<text x="1028" y="761">6</text><text x="1059" y="749">3</text><text x="1058" y="762">4</text><text x="1058" y="776">5</text>
<text x="1118" y="760">12</text><text x="1152" y="747">1</text><text x="1152" y="761">2</text><text x="1150" y="775">13</text>
<text x="1066" y="798">8</text><text x="1098" y="786">9</text><text x="1096" y="800">10</text><text x="1097" y="812">11</text>
<text transform="translate(1003,818) rotate(-90)">R1017</text><text transform="translate(1013,812) rotate(-90)">470</text>
<text x="1027" y="842" textLength="135" lengthAdjust="spacingAndGlyphs">2MHz - HARMONIC - SPECTRUM</text><text x="1027" y="855">GENERATOR</text>
<text transform="translate(690,991) rotate(-90)">PD 2 (+1.5V) OUT</text>
<text transform="translate(713,951) rotate(-90)">PD 2 OUT</text>
<text transform="translate(796,961) rotate(-90)">100 Hz OUT</text>
<text transform="translate(870,980) rotate(-90)">PD 1 (+1.5V) OUT</text>
<text transform="translate(893,962) rotate(-90)">PD 1 OUT</text>
<text transform="translate(965,958) rotate(-90)">10 kHz OUT</text>
<text transform="translate(990,960) rotate(-90)">2 MHz OUT</text>
<text transform="translate(1193,932) rotate(-90)">600 kHz</text><text transform="translate(1204,932) rotate(-90)">OUT</text>
<text transform="translate(1225,914) rotate(-90)">IN</text><text transform="translate(1236,931) rotate(-90)">597 kHz</text><text transform="translate(1248,932) rotate(-90)">600 kHz</text>
<text x="1254" y="882" textLength="41" lengthAdjust="spacingAndGlyphs">5-0-20886</text>
<text class="s" transform="translate(121,86) rotate(-90)">16V</text><text class="s" x="127" y="106">0.38µs</text>
<text class="s" transform="translate(249,89) rotate(-90)">3-5V</text><text class="s" x="250" y="107">0.38µs</text>
<text class="s" x="1131" y="50">0.1µs</text><text class="s" transform="translate(1114,92) rotate(-90)">3-5V</text>
<text class="s" transform="translate(1383,88) rotate(-90)">0.15V</text><text class="s" x="1318" y="116">0.12ms</text>
<text class="s" transform="translate(200,958) rotate(-90)">3V</text><text class="s" x="231" y="979">0.67ms</text>
<text class="s" transform="translate(362,960) rotate(-90)">3-5V</text><text class="s" x="380" y="977">0.67ms</text>
<text class="s" transform="translate(528,964) rotate(-90)">3-5V</text><text class="s" x="554" y="982">10ms</text>
<text class="s" x="579" y="1092">15µs</text><text class="s" x="597" y="1134">10ms</text>
<text class="s" transform="translate(641,1141) rotate(-90)">2.3V</text><text class="s" transform="translate(648,1141) rotate(-90)">1.5V</text>
<text class="s" transform="translate(707,1120) rotate(-90)">3-5V</text><text class="s" x="734" y="1142">10ms</text>
<text class="s" transform="translate(838,1120) rotate(-90)">3-5V</text><text class="s" x="865" y="1142">1ms</text>
<text class="s" x="970" y="1123">1ms</text><text class="s" transform="translate(1011,1127) rotate(-90)">2.3V</text><text class="s" transform="translate(1020,1127) rotate(-90)">1.5V</text>
<text class="s" transform="translate(1081,1122) rotate(-90)">3-5V</text><text class="s" x="1108" y="1145">1ms</text>
<text class="s" transform="translate(1091,953) rotate(-90)">17V</text><text class="s" x="1119" y="976">0.5µs</text>
<text class="s" transform="translate(1303,962) rotate(-90)">3-5V</text><text class="s" x="1330" y="985">5µs</text>
<text class="s" transform="translate(1451,960) rotate(-90)">1.3V</text><text class="s" x="1457" y="995">1.67µs</text>
</g>
</svg>
</body></html>
